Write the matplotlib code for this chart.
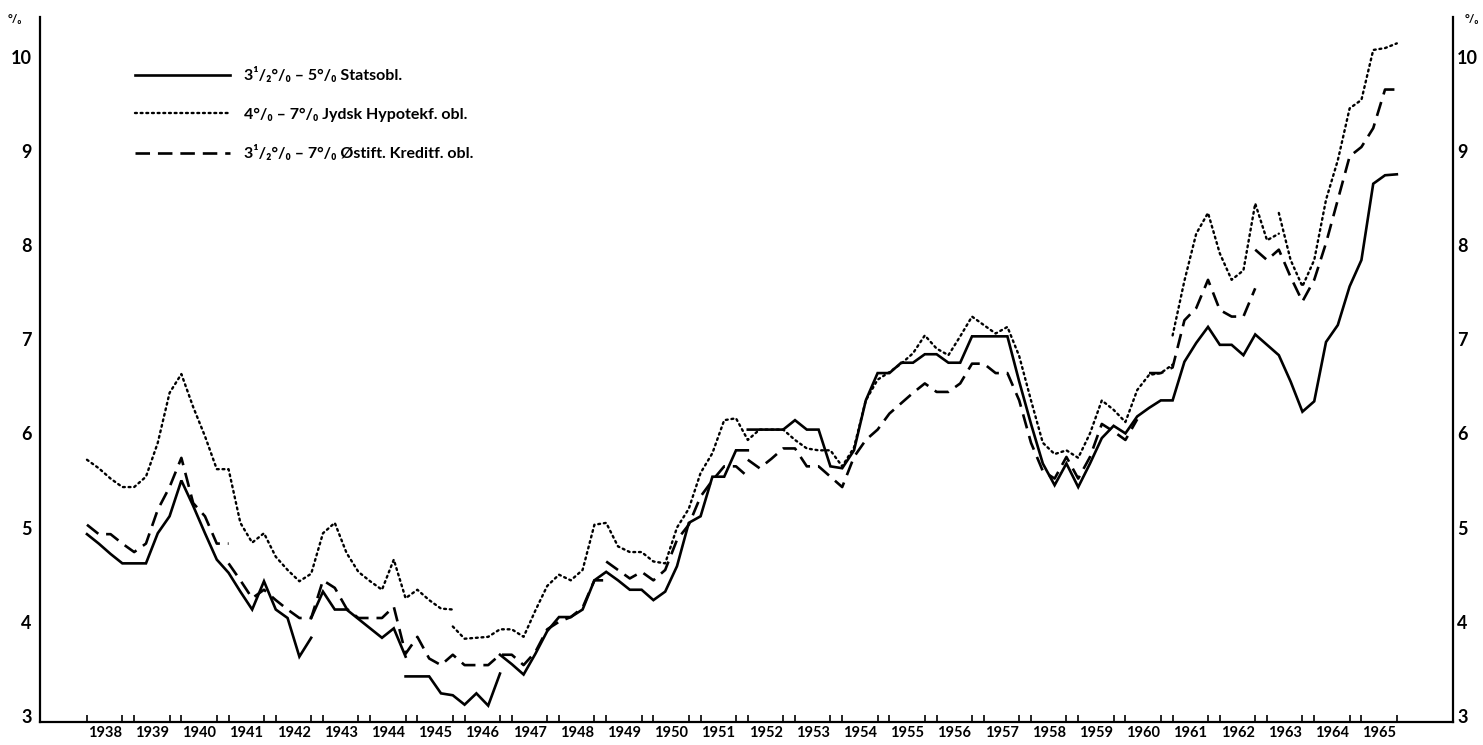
import numpy as np
import matplotlib
matplotlib.use("Agg")
import matplotlib.pyplot as plt
from matplotlib.ticker import FixedLocator, NullFormatter

plt.rcParams['font.family'] = ['Lato', 'DejaVu Sans']

# ---------------- data (quarterly yields, %) ----------------
FIRST_YEAR = 1938
years = list(range(1938, 1966))
y_ticks = [3, 4, 5, 6, 7, 8, 9, 10]

# each segment: first quarter (year, quarter) and values
# 3½ % - 5 % Statsobligationer (solid)
stat_a_start = (1938, 1)
stat_a = [4.93, 4.83, 4.72, 4.62, 4.62, 4.62, 4.94, 5.12, 5.50, 5.23, 4.94, 4.66,
          4.52, 4.32, 4.13, 4.43, 4.13, 4.04, 3.63, 3.83]
stat_b_start = (1942, 4)
stat_b = [4.04, 4.32, 4.13, 4.13, 4.03, 3.93, 3.83, 3.93, 3.63]
stat_c_start = (1944, 4)
stat_c = [3.42, 3.42, 3.42, 3.24, 3.22, 3.12, 3.24, 3.11, 3.45]
stat_d_start = (1946, 4)
stat_d = [3.65, 3.55, 3.44, 3.66, 3.90, 4.05, 4.05, 4.13, 4.44, 4.53, 4.44, 4.34,
          4.34, 4.23, 4.32, 4.59, 5.05, 5.12, 5.54, 5.54, 5.82, 5.82]
stat_e_start = (1952, 1)
stat_e = [6.04, 6.04, 6.04, 6.04, 6.14, 6.04, 6.04, 5.65, 5.63, 5.82, 6.35, 6.64,
          6.64, 6.75, 6.75, 6.84, 6.84, 6.75, 6.75, 7.03, 7.03, 7.03, 7.03, 6.55,
          6.10, 5.68, 5.45, 5.68, 5.43, 5.68, 5.95, 6.08, 6.00, 6.18, 6.27, 6.35,
          6.35, 6.76, 6.96, 7.13, 6.94, 6.94, 6.83, 7.05, 6.94, 6.83, 6.55, 6.23,
          6.34, 6.97, 7.15, 7.56, 7.84, 8.65, 8.74, 8.75]

# 4 % - 7 % Jydsk Hypotekforenings obligationer (dotted)
jyd_a_start = (1938, 1)
jyd_a = [5.72, 5.63, 5.52, 5.43, 5.43, 5.54, 5.90, 6.43, 6.63, 6.28, 5.97, 5.62,
         5.62, 5.05, 4.84, 4.94, 4.69, 4.55, 4.43, 4.51, 4.94, 5.05, 4.73, 4.53,
         4.43, 4.34, 4.66, 4.25, 4.34, 4.23, 4.14, 4.13]
jyd_b_start = (1945, 4)
jyd_b = [3.95, 3.82, 3.83, 3.84, 3.92, 3.92, 3.84, 4.12, 4.38, 4.50, 4.44, 4.55,
         5.03, 5.05, 4.80, 4.74, 4.74, 4.64, 4.62, 5.00, 5.20, 5.58, 5.79, 6.14,
         6.16, 5.93, 6.04, 6.04, 6.04, 5.93, 5.84, 5.82, 5.82, 5.65, 5.85, 6.35,
         6.57, 6.65, 6.74, 6.85, 7.04, 6.90, 6.83, 7.03, 7.24, 7.15, 7.06, 7.13,
         6.82, 6.35, 5.90, 5.78, 5.82, 5.74, 6.00, 6.35, 6.25, 6.12, 6.46, 6.62,
         6.64, 6.73]
jyd_c_start = (1961, 1)
jyd_c = [7.04, 7.62, 8.12, 8.34, 7.91, 7.63, 7.73, 8.44, 8.05, 8.12]
jyd_d_start = (1963, 2)
jyd_d = [8.34, 7.84, 7.56, 7.84, 8.48, 8.90, 9.45, 9.54, 10.07, 10.09, 10.14]

# 3½ % - 7 % Østifternes Kreditforenings obligationer (dashed)
ost_a_start = (1938, 1)
ost_a = [5.03, 4.93, 4.93, 4.83, 4.74, 4.83, 5.19, 5.43, 5.74, 5.26, 5.12, 4.83, 4.83]
ost_b_start = (1941, 1)
ost_b = [4.62, 4.44, 4.25, 4.34, 4.23, 4.13, 4.04, 4.04, 4.44, 4.36, 4.14, 4.04,
         4.04, 4.04, 4.16, 3.66, 3.84, 3.61, 3.54, 3.65, 3.54, 3.54, 3.54, 3.65,
         3.65, 3.54, 3.68, 3.92, 4.00, 4.05, 4.15, 4.44, 4.44]
ost_c_start = (1949, 1)
ost_c = [4.64, 4.55, 4.46, 4.53, 4.44, 4.55, 4.87, 5.03, 5.33, 5.50, 5.65, 5.65, 5.54]
ost_d_start = (1952, 1)
ost_d = [5.72, 5.63, 5.73, 5.84, 5.84, 5.65, 5.65, 5.54, 5.43, 5.75, 5.93, 6.04,
         6.21, 6.32, 6.43, 6.53, 6.44, 6.44, 6.53, 6.74, 6.74, 6.64, 6.64, 6.35,
         5.90, 5.60, 5.52, 5.75, 5.52, 5.75, 6.10, 6.02, 5.93, 6.15]
ost_e_start = (1960, 3)
ost_e = [6.64, 6.64, 6.70, 7.20, 7.33, 7.63, 7.31, 7.24, 7.24, 7.54]
ost_f_start = (1962, 4)
ost_f = [7.95, 7.84, 7.95, 7.66, 7.40, 7.63, 8.02, 8.48, 8.94, 9.04, 9.24, 9.65, 9.65]

labels = ["3\u00b9/\u2082\u00b0/\u2080 \u2013 5\u00b0/\u2080 Statsobl.",
          "4\u00b0/\u2080 \u2013 7\u00b0/\u2080 Jydsk Hypotekf. obl.",
          "3\u00b9/\u2082\u00b0/\u2080 \u2013 7\u00b0/\u2080 \u00d8stift. Kreditf. obl."]


def qtime(start, n):
    y, q = start
    return y + (q - 1) / 4 + np.arange(n) / 4


# ---------------- figure ----------------
fig = plt.figure(figsize=(14.83, 7.45), dpi=100)
ax = fig.add_axes([40 / 1483, 1 - 722 / 745, (1453 - 40) / 1483, (722 - 17) / 745])

solid = dict(color='black', lw=1.9, linestyle='-', solid_joinstyle='miter')
dotted = dict(color='black', lw=1.7, linestyle=(0, (0.8, 1.6)), dash_capstyle='round')
dashed = dict(color='black', lw=1.9, linestyle=(0, (5.5, 3)))

h1 = None
for st, vals in [(stat_a_start, stat_a), (stat_b_start, stat_b), (stat_c_start, stat_c),
                 (stat_d_start, stat_d), (stat_e_start, stat_e)]:
    l, = ax.plot(qtime(st, len(vals)), vals, **solid)
    h1 = h1 or l
h2 = None
for st, vals in [(jyd_a_start, jyd_a), (jyd_b_start, jyd_b), (jyd_c_start, jyd_c),
                 (jyd_d_start, jyd_d)]:
    l, = ax.plot(qtime(st, len(vals)), vals, **dotted)
    h2 = h2 or l
h3 = None
for st, vals in [(ost_a_start, ost_a), (ost_b_start, ost_b), (ost_c_start, ost_c),
                 (ost_d_start, ost_d), (ost_e_start, ost_e), (ost_f_start, ost_f)]:
    l, = ax.plot(qtime(st, len(vals)), vals, **dashed)
    h3 = h3 or l

XLIM = (1937.005, 1966.94)
YLIM = (2.936, 10.42)
ax.set_xlim(*XLIM)
ax.set_ylim(*YLIM)

for s in ['left', 'right', 'bottom']:
    ax.spines[s].set_linewidth(1.6)
ax.spines['top'].set_visible(False)

# x axis: year labels at mid-year, small inward ticks around year change
ax.set_xticks([y + 0.375 for y in years])
ax.set_xticklabels([str(y) for y in years], fontsize=10.5, fontweight='bold')
ax.tick_params(axis='x', which='major', length=0, pad=3)
minor = [FIRST_YEAR] + [y + d for y in years for d in (0.75, 1.0)][:-1]
ax.xaxis.set_minor_locator(FixedLocator(minor))
ax.xaxis.set_minor_formatter(NullFormatter())
ax.tick_params(axis='x', which='minor', direction='in', length=5, width=1.2)

ax.set_yticks(y_ticks)
ax.set_yticklabels([str(v) for v in y_ticks], fontsize=13, fontweight='bold')
ax.tick_params(axis='y', length=0, pad=6, left=False, right=False)

# right-hand scale
ax2 = ax.twinx()
ax2.set_ylim(*YLIM)
ax2.set_yticks(y_ticks)
ax2.set_yticklabels([str(v) for v in y_ticks], fontsize=13, fontweight='bold')
ax2.tick_params(axis='y', length=0, pad=3)
for s in ax2.spines.values():
    s.set_visible(False)

fig.text(15 / 1483, 1 - 20 / 745, "\u00b0/\u2080", fontsize=8.5, fontweight='bold',
         ha='center', va='center')
fig.text(1472 / 1483, 1 - 20 / 745, "\u00b0/\u2080", fontsize=8.5, fontweight='bold',
         ha='center', va='center')

leg = ax.legend([h1, h2, h3], labels, loc='upper left',
                bbox_to_anchor=((121 - 40) / 1413, 1 - (53 - 17) / 705),
                frameon=False, handlelength=5.9, handletextpad=0.9,
                labelspacing=1.5, prop={'weight': 'bold', 'size': 11.5})

fig.savefig("out.png", dpi=100, facecolor='white')
